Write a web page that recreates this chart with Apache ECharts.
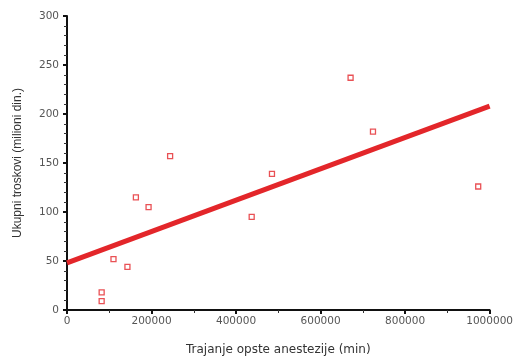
<!DOCTYPE html>
<html>
<head>
<meta charset="utf-8">
<script src="https://cdn.jsdelivr.net/npm/echarts@6/dist/echarts.min.js"></script>
<style>
  html, body { margin: 0; padding: 0; background: #fff; }
  #chart { width: 516px; height: 363px; }
</style>
</head>
<body>
<div id="chart"></div>
<script>
// trajanje anestezije (min) i ukupni troskovi (milioni din.)
const durations = [82000, 82000, 110000, 143000, 163000, 193000, 244000, 437000, 485000, 671000, 724000, 973000]
const costs = [9, 18, 52, 44, 115, 105, 157, 95, 139, 237, 182, 126]

// regresiona linija (krajnje tacke)
const fitX = [0, 1000000]
const fitY = [48, 208]

const xTicks = [0, 200000, 400000, 600000, 800000, 1000000]
const yTicks = [0, 50, 100, 150, 200, 250, 300]

const red = '#e3262a'
const tickFont = 'DejaVu Sans, Verdana, sans-serif'
const titleFont = 'Liberation Sans, Arial, sans-serif'

const chart = echarts.init(document.getElementById('chart'))

const option = {
  animation: false,
  grid: {
    left: 67,
    right: 23,
    top: 16,
    bottom: 53
  },
  xAxis: {
    type: 'value',
    min: xTicks[0],
    max: xTicks[xTicks.length - 1],
    interval: xTicks[1] - xTicks[0],
    name: 'Trajanje opste anestezije (min)',
    nameLocation: 'middle',
    nameGap: 34,
    nameTextStyle: { color: '#333', fontSize: 12, fontFamily: tickFont },
    splitLine: { show: false },
    axisLine: { show: true, onZero: false, lineStyle: { color: '#111', width: 2 } },
    axisTick: { show: true, length: 4, lineStyle: { color: '#111', width: 2 } },
    minorTick: { show: true, splitNumber: 2, length: 3, lineStyle: { color: '#333', width: 1 } },
    axisLabel: {
      color: '#555',
      fontSize: 10.5,
      fontFamily: tickFont,
      margin: 6,
      formatter: (v) => String(v)
    }
  },
  yAxis: {
    type: 'value',
    min: yTicks[0],
    max: yTicks[yTicks.length - 1],
    interval: yTicks[1] - yTicks[0],
    name: 'Ukupni troskovi (milioni din.)',
    nameLocation: 'middle',
    nameGap: 43,
    nameRotate: 90,
    nameTextStyle: { color: '#333', fontSize: 12, fontFamily: titleFont },
    splitLine: { show: false },
    axisLine: { show: true, onZero: false, lineStyle: { color: '#111', width: 2 } },
    axisTick: { show: true, length: 4, lineStyle: { color: '#111', width: 2 } },
    minorTick: { show: true, splitNumber: 5, length: 3, lineStyle: { color: '#333', width: 1 } },
    axisLabel: { color: '#555', fontSize: 10.5, fontFamily: tickFont, margin: 8 }
  },
  series: [
    {
      type: 'line',
      data: fitX.map((x, i) => [x, fitY[i]]),
      showSymbol: false,
      lineStyle: { color: red, width: 5 },
      z: 2
    },
    {
      type: 'scatter',
      data: durations.map((x, i) => [x, costs[i]]),
      symbol: 'rect',
      symbolSize: 5,
      itemStyle: { color: '#fff', borderColor: red, borderWidth: 1.3 },
      z: 3
    }
  ]
}

chart.setOption(option)
</script>
</body>
</html>
